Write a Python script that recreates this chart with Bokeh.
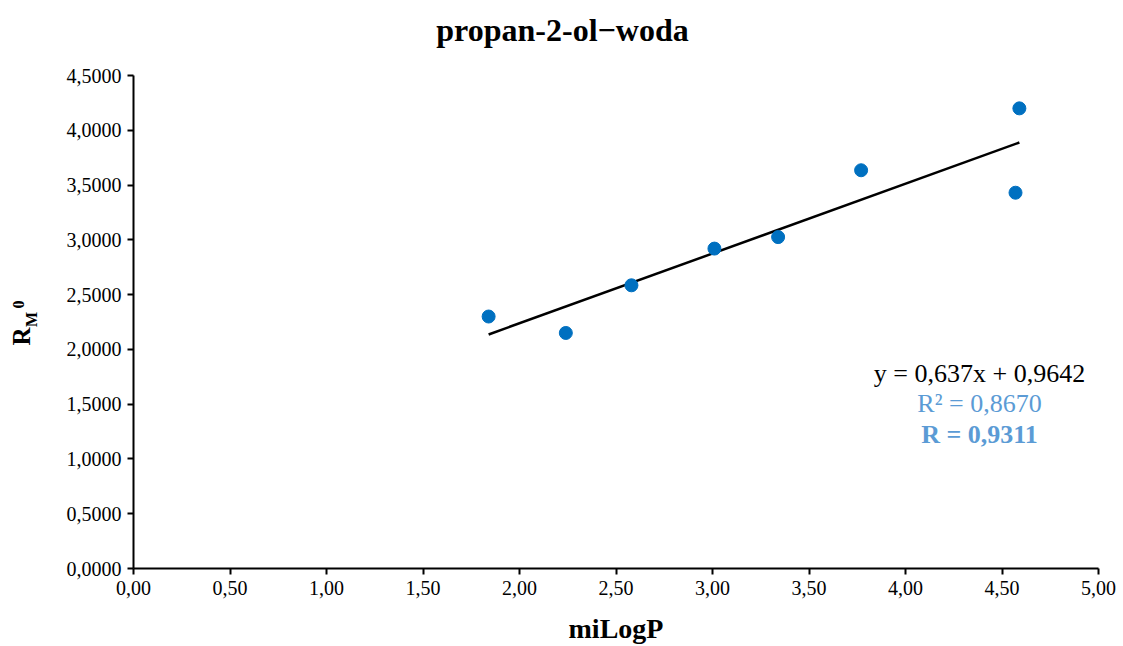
import numpy as np
from bokeh.plotting import figure
from bokeh.layouts import column, row
from bokeh.models import Label, Range1d, FixedTicker
from bokeh.embed import file_html
from bokeh.resources import INLINE

# data
milogp = [1.84, 2.24, 2.58, 3.01, 3.34, 3.77, 4.59, 4.57]
rm0 = [2.30, 2.15, 2.585, 2.92, 3.025, 3.635, 4.20, 3.43]
slope = 0.637
intercept = 0.9642
eq_text = "y = 0,637x + 0,9642"
r2_text = "R² = 0,8670"
r_text = "R = 0,9311"
title_text = "propan-2-ol\u2212woda"
x_label = "miLogP"

x_ticks = [0.0, 0.5, 1.0, 1.5, 2.0, 2.5, 3.0, 3.5, 4.0, 4.5, 5.0]
x_tick_labels = ["0,00", "0,50", "1,00", "1,50", "2,00", "2,50", "3,00", "3,50", "4,00", "4,50", "5,00"]
y_ticks = [0.0, 0.5, 1.0, 1.5, 2.0, 2.5, 3.0, 3.5, 4.0, 4.5]
y_tick_labels = ["0,0000", "0,5000", "1,0000", "1,5000", "2,0000", "2,5000", "3,0000", "3,5000", "4,0000", "4,5000"]

FONT = "Liberation Serif"
W, H = 1123, 646
TITLE_H = 60          # height of the title strip
YLAB_W = 45           # width of the y-label strip
FL, FR, FT, FB = 133, 1098, 75, 568  # frame edges in window pixels

MW, MH = W - YLAB_W, H - TITLE_H


def blank(width, height):
    f = figure(width=width, height=height, output_backend="svg", toolbar_location=None,
               x_range=Range1d(0, width), y_range=Range1d(0, height),
               x_axis_location=None, y_axis_location=None,
               min_border=0, min_border_left=0, min_border_right=0,
               min_border_top=0, min_border_bottom=0)
    f.grid.visible = False
    f.outline_line_color = None
    f.background_fill_color = "white"
    f.border_fill_color = "white"
    return f


# ---- title strip
tf = blank(W, TITLE_H)
tf.add_layout(Label(x=562, y=TITLE_H - 29, x_units="screen", y_units="screen",
                    text=title_text, text_font=FONT,
                    text_font_size="32px", text_font_style="bold", text_color="black",
                    text_align="center", text_baseline="middle"))

# ---- y-label strip (R_M^0); its frame is aligned with the main plot frame
yf = blank(YLAB_W, MH)
def ylab(text, x, y, size):
    yf.add_layout(Label(x=x, y=FB - y, x_units="screen", y_units="screen",
                        text=text, text_font=FONT, text_font_size=size,
                        text_font_style="bold", text_color="black",
                        text_align="center", text_baseline="middle", angle=np.pi / 2))
ylab("R", 21, 336, "25px")
ylab("M", 31, 319, "16px")
ylab("0", 18, 304, "16px")

# ---- main plot
p = figure(width=MW, height=MH, output_backend="svg", toolbar_location=None,
           x_range=Range1d(0, 5), y_range=Range1d(0, 4.5),
           min_border_left=FL - YLAB_W, min_border_right=W - FR,
           min_border_top=FT - TITLE_H, min_border_bottom=H - FB)
p.outline_line_color = None
p.xgrid.grid_line_color = None
p.ygrid.grid_line_color = None
p.background_fill_color = "white"
p.border_fill_color = "white"

for ax, ticks, labels in ((p.xaxis[0], x_ticks, x_tick_labels), (p.yaxis[0], y_ticks, y_tick_labels)):
    ax.ticker = FixedTicker(ticks=ticks)
    ax.major_label_overrides = {t: l for t, l in zip(ticks, labels)}
    ax.axis_line_color = "black"
    ax.axis_line_width = 2
    ax.major_tick_line_color = "black"
    ax.major_tick_line_width = 2
    ax.major_tick_out = 6
    ax.major_tick_in = 0
    ax.minor_tick_line_color = None
    ax.major_label_text_font = FONT
    ax.major_label_text_font_size = "20px"
    ax.major_label_text_color = "black"

p.xaxis.major_label_standoff = 6
p.yaxis.major_label_standoff = 6
p.xaxis.axis_label = x_label
p.xaxis.axis_label_text_font = FONT
p.xaxis.axis_label_text_font_size = "28px"
p.xaxis.axis_label_text_font_style = "bold"
p.xaxis.axis_label_text_color = "black"
p.xaxis.axis_label_standoff = 15

# trendline over the data span
xs = np.array([min(milogp), max(milogp)])
p.line(xs, slope * xs + intercept, line_color="black", line_width=2.5)

# points
p.scatter(milogp, rm0, size=13, fill_color="#0070C0", line_color="#0070C0")

# equation box (positions in window pixels -> frame-relative screen units)
def lab(text, x, y, size, color="black", bold=False):
    p.add_layout(Label(x=x - FL, y=FB - y, x_units="screen", y_units="screen",
                       text=text, text_font=FONT, text_font_size=size,
                       text_font_style="bold" if bold else "normal",
                       text_color=color, text_align="center", text_baseline="middle"))

lab(eq_text, 979, 373, "26px")
lab(r2_text, 979, 403, "26px", color="#5B9BD5")
lab(r_text, 979, 434, "26px", color="#5B9BD5", bold=True)

layout = column(tf, row(yf, p, spacing=0), spacing=0)
open("out.html", "w").write(file_html(layout, INLINE))
